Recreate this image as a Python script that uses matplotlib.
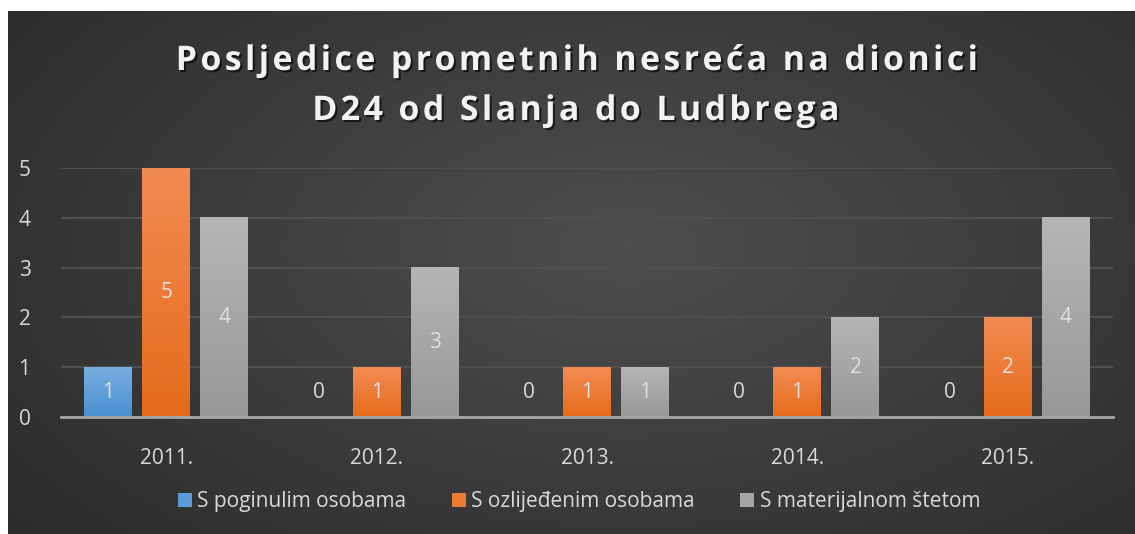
import matplotlib.pyplot as plt
import matplotlib.patheffects as pe
from matplotlib.colors import LinearSegmentedColormap
from matplotlib.patches import Patch
import numpy as np

# Data
years = ['2011.', '2012.', '2013.', '2014.', '2015.']
series_names = ['S poginulim osobama', 'S ozlijeđenim osobama', 'S materijalnom štetom']
poginuli = [1, 0, 0, 0, 0]
ozlijedeni = [5, 1, 1, 1, 2]
materijalna = [4, 3, 1, 2, 4]
title_lines = ['Posljedice prometnih nesreća na dionici', 'D24 od Slanja do Ludbrega']

# colours (top, bottom) for the bar gradients
grads = [('#78aee0', '#4a8fd0'), ('#f28b52', '#e56b1b'), ('#b5b5b5', '#989898')]
legend_colors = ['#5a9bd8', '#ed7d31', '#a5a5a5']
txt_color = '#d9d9d9'

plt.rcParams['font.family'] = ['Open Sans', 'DejaVu Sans']

fig = plt.figure(figsize=(11.35, 5.34), dpi=100)
fig.patch.set_facecolor('white')

# dark radial-gradient background
bg = fig.add_axes([8 / 1135, 0, 1 - 8 / 1135, 1 - 11 / 534], zorder=-5)
yy, xx = np.mgrid[0:1:300j, 0:1:600j]
r = np.sqrt(((xx - 0.55) / 0.75) ** 2 + ((yy - 0.45) / 0.9) ** 2)
r = np.clip(r, 0, 1)
bg_cmap = LinearSegmentedColormap.from_list('bg', ['#4e4e4e', '#2b2b2b'])
bg.imshow(r, cmap=bg_cmap, aspect='auto', extent=[0, 1, 0, 1], interpolation='bilinear')
bg.axis('off')

ax = fig.add_axes([61 / 1135, 1 - 417 / 534, (1113 - 61) / 1135, (417 - 168) / 534])
ax.set_facecolor('none')

x = np.arange(len(years))
width = 0.228
offsets = [-0.276, 0, 0.276]
all_series = [poginuli, ozlijedeni, materijalna]

for vals, off, (ctop, cbot) in zip(all_series, offsets, grads):
    bars = ax.bar(x + off, vals, width, color=cbot, zorder=3, clip_on=False)
    cmap = LinearSegmentedColormap.from_list('g', [cbot, ctop])
    for bar, v in zip(bars, vals):
        cx = bar.get_x() + bar.get_width() / 2
        if v > 0:
            grad = np.linspace(1, 0, 100).reshape(-1, 1)
            im = ax.imshow(grad, cmap=cmap, aspect='auto', zorder=3.5,
                           extent=[bar.get_x(), bar.get_x() + bar.get_width(), 0, v],
                           interpolation='bilinear', clip_on=False)
            im.set_clip_path(bar)
            ax.text(cx, v / 2, str(v), ha='center', va='center',
                    color='#e0e0e0', fontsize=15, zorder=5)
        else:
            ax.annotate(str(v), (cx, 0), xytext=(0, 18), textcoords='offset points',
                        ha='center', va='center', color=txt_color, fontsize=15, zorder=5)

ax.set_xlim(-0.5, len(years) - 0.5)
ax.set_ylim(0, 5)
ax.set_yticks(range(6))
ax.set_xticks(x)
ax.set_xticklabels(years)
ax.tick_params(axis='both', length=0, colors=txt_color, labelsize=15)
ax.tick_params(axis='x', pad=22)
ax.tick_params(axis='y', pad=22)
ax.grid(axis='y', color='#4f4f4f', linewidth=1.6, zorder=0)
for s in ['top', 'right', 'left']:
    ax.spines[s].set_visible(False)
ax.spines['bottom'].set_color('#a6a6a6')
ax.spines['bottom'].set_linewidth(2)
ax.spines['bottom'].set_zorder(4)

# spaced-out title (letter spacing via hair spaces)
spaced = ['\u200a'.join(line) for line in title_lines]
shadow = [pe.withSimplePatchShadow(offset=(1.5, -1.5), shadow_rgbFace='black', alpha=0.6)]
for line, ypix in zip(spaced, [61, 111]):
    fig.text(0.5066, 1 - ypix / 534, line, ha='center', va='center', color='#f2f2f2',
             fontsize=24.4, fontweight='bold', path_effects=shadow)

handles = [Patch(facecolor=c) for c in legend_colors]
fig.legend(handles, series_names, loc='center', bbox_to_anchor=(0.510, 1 - 502 / 534), ncol=3,
           frameon=False, fontsize=15, labelcolor=txt_color, handlelength=0.67, handleheight=0.67,
           handletextpad=0.25, columnspacing=2.2)

fig.savefig('out.png', dpi=100)
